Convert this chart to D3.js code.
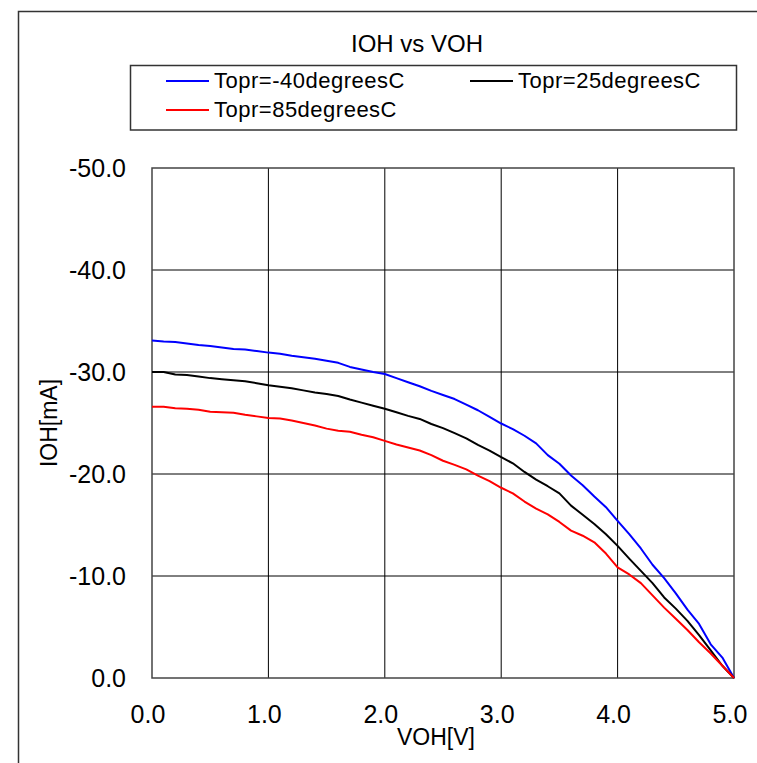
<!DOCTYPE html>
<html>
<head>
<meta charset="utf-8">
<script src="https://cdnjs.cloudflare.com/ajax/libs/d3/7.8.5/d3.min.js"></script>
<style>
  body { margin: 0; background: #fff; }
  text { font-family: "Liberation Sans", Arial, sans-serif; fill: #000; }
</style>
</head>
<body>
<div id="chart"></div>
<script>
// voltage samples (V)
var voh = [0.0, 0.1, 0.2, 0.3, 0.4, 0.5, 0.6, 0.7, 0.8, 0.9,
           1.0, 1.1, 1.2, 1.3, 1.4, 1.5, 1.6, 1.7, 1.8, 1.9,
           2.0, 2.1, 2.2, 2.3, 2.4, 2.5, 2.6, 2.7, 2.8, 2.9,
           3.0, 3.1, 3.2, 3.3, 3.4, 3.5, 3.6, 3.7, 3.8, 3.9,
           4.0, 4.1, 4.2, 4.3, 4.4, 4.5, 4.6, 4.7, 4.8, 4.9, 5.0];

// IOH (mA) per temperature
var ioh_m40 = [-33.1, -33.0, -32.95, -32.8, -32.65, -32.55, -32.4, -32.25, -32.2, -32.05,
               -31.9, -31.8, -31.6, -31.45, -31.3, -31.1, -30.9, -30.5, -30.25, -30.0,
               -29.8, -29.4, -29.0, -28.6, -28.15, -27.75, -27.35, -26.8, -26.25, -25.6,
               -24.95, -24.4, -23.75, -23.0, -21.85, -21.0, -19.85, -18.9, -17.8, -16.75,
               -15.4, -14.1, -12.7, -11.1, -9.8, -8.3, -6.7, -5.3, -3.3, -2.0, 0.0];
var ioh_25 = [-30.0, -30.0, -29.75, -29.7, -29.55, -29.4, -29.3, -29.2, -29.1, -28.9,
              -28.7, -28.55, -28.4, -28.2, -28.0, -27.85, -27.65, -27.3, -27.0, -26.7,
              -26.4, -26.05, -25.7, -25.4, -24.9, -24.5, -24.0, -23.5, -22.85, -22.3,
              -21.65, -21.05, -20.2, -19.45, -18.8, -18.1, -16.9, -16.0, -15.1, -14.1,
              -12.95, -11.7, -10.5, -9.3, -7.9, -6.8, -5.6, -4.2, -2.7, -1.2, 0.0];
var ioh_85 = [-26.6, -26.6, -26.45, -26.4, -26.3, -26.1, -26.05, -26.0, -25.8, -25.65,
              -25.5, -25.45, -25.25, -25.0, -24.75, -24.45, -24.25, -24.15, -23.85, -23.6,
              -23.25, -22.9, -22.6, -22.3, -21.85, -21.3, -20.9, -20.45, -19.85, -19.3,
              -18.65, -18.1, -17.3, -16.6, -16.05, -15.3, -14.45, -13.95, -13.3, -12.2,
              -10.85, -10.15, -9.3, -8.1, -6.9, -5.8, -4.7, -3.5, -2.4, -1.2, 0.0];

var seriesNames = ["Topr=-40degreesC", "Topr=25degreesC", "Topr=85degreesC"];
var seriesColors = ["#0000ff", "#000000", "#ff0000"];
var seriesValues = [ioh_m40, ioh_25, ioh_85];

var xTicks = [0, 1, 2, 3, 4, 5];
var yTicks = [0, -10, -20, -30, -40, -50];

var W = 757, H = 763;
var margin = {top: 168, right: 23, bottom: 85, left: 152};

var svg = d3.select("#chart").append("svg")
  .attr("width", W)
  .attr("height", H);

// outer border (runs off the right/bottom edge)
svg.append("rect")
  .attr("x", 18.5).attr("y", 11.5)
  .attr("width", W).attr("height", H)
  .attr("fill", "none")
  .attr("stroke", "#333")
  .attr("stroke-width", 1.5);

var x = d3.scaleLinear().domain([0, 5]).range([margin.left, W - margin.right]);
var y = d3.scaleLinear().domain([0, -50]).range([H - margin.bottom, margin.top]);

// grid
svg.append("g").selectAll("line")
  .data(xTicks.slice(1, -1))
  .enter().append("line")
    .attr("x1", function(d) { return x(d); })
    .attr("x2", function(d) { return x(d); })
    .attr("y1", y(0)).attr("y2", y(-50))
    .attr("stroke", "#000").attr("stroke-width", 1);
svg.append("g").selectAll("line")
  .data(yTicks.slice(1, -1))
  .enter().append("line")
    .attr("y1", function(d) { return y(d); })
    .attr("y2", function(d) { return y(d); })
    .attr("x1", x(0)).attr("x2", x(5))
    .attr("stroke", "#000").attr("stroke-width", 1);

// plot frame
svg.append("rect")
  .attr("x", x(0)).attr("y", y(-50))
  .attr("width", x(5) - x(0)).attr("height", y(0) - y(-50))
  .attr("fill", "none")
  .attr("stroke", "#444")
  .attr("stroke-width", 1.5);

// tick labels (plain hyphen for the minus sign)
var fmt = function(d) { return d3.format(".1f")(d).replace("\u2212", "-"); };
svg.append("g").selectAll("text")
  .data(xTicks)
  .enter().append("text")
    .attr("x", function(d) { return x(d) - 4; })
    .attr("y", 723)
    .attr("text-anchor", "middle")
    .style("font-size", "25px")
    .text(function(d) { return fmt(d); });
svg.append("g").selectAll("text")
  .data(yTicks)
  .enter().append("text")
    .attr("x", 126)
    .attr("y", function(d) { return y(d); })
    .attr("dy", "0.35em")
    .attr("text-anchor", "end")
    .style("font-size", "25px")
    .text(function(d) { return fmt(d); });

// axis titles
svg.append("text")
  .attr("x", 436).attr("y", 745)
  .attr("text-anchor", "middle")
  .style("font-size", "23px")
  .text("VOH[V]");
svg.append("text")
  .attr("transform", "translate(57," + ((y(0) + y(-50)) / 2) + ") rotate(-90)")
  .attr("text-anchor", "middle")
  .style("font-size", "23px")
  .text("IOH[mA]");

// title
svg.append("text")
  .attr("x", 417).attr("y", 51.5)
  .attr("text-anchor", "middle")
  .style("font-size", "24px")
  .text("IOH vs VOH");

// curves
var line = d3.line()
  .x(function(d, i) { return x(voh[i]); })
  .y(function(d) { return y(d); });
seriesValues.forEach(function(vals, k) {
  svg.append("path")
    .datum(vals)
    .attr("fill", "none")
    .attr("stroke", seriesColors[k])
    .attr("stroke-width", 2)
    .attr("stroke-linejoin", "round")
    .attr("d", line);
});

// legend
svg.append("rect")
  .attr("x", 130.5).attr("y", 65.5)
  .attr("width", 606).attr("height", 64.5)
  .attr("fill", "#fff")
  .attr("stroke", "#333")
  .attr("stroke-width", 1.5);
var legendPos = [{x: 166, y: 81}, {x: 470, y: 81}, {x: 166, y: 110}];
var leg = svg.append("g").selectAll("g")
  .data(seriesNames)
  .enter().append("g")
    .attr("transform", function(d, i) {
      return "translate(" + legendPos[i].x + "," + legendPos[i].y + ")"; });
leg.append("line")
  .attr("x1", 0).attr("x2", 43)
  .attr("stroke", function(d, i) { return seriesColors[i]; })
  .attr("stroke-width", 2);
leg.append("text")
  .attr("x", 48).attr("y", 7)
  .style("font-size", "22px")
  .style("letter-spacing", "0.5px")
  .text(function(d) { return d; });
</script>
</body>
</html>
